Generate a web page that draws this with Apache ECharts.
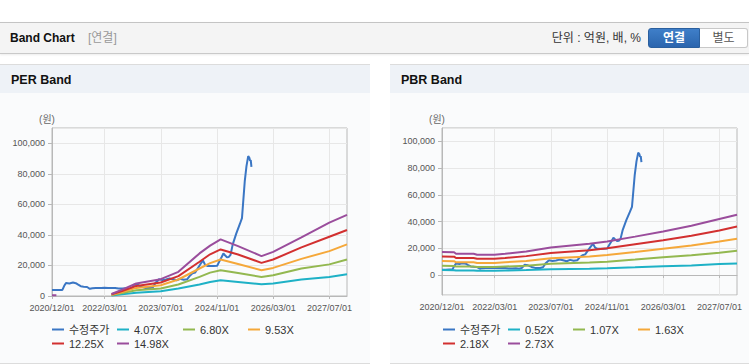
<!DOCTYPE html>
<html><head><meta charset="utf-8">
<script src="https://cdn.jsdelivr.net/npm/echarts@6/dist/echarts.min.js"></script>
<style>
html,body{margin:0;padding:0;background:#fff;width:749px;height:364px;overflow:hidden;font-family:'Liberation Sans','Noto Sans CJK KR',sans-serif;}
#hdr{position:absolute;left:0;top:22px;width:749px;height:30px;background:#f4f4f4;border-top:1px solid #c4c4c4;border-bottom:1px solid #c9c9c9;box-shadow:0 1px 2px rgba(0,0,0,0.08);}
#hdr .t{position:absolute;left:10px;top:0;line-height:30px;font-size:12px;font-weight:bold;color:#111;}
#hdr .s{position:absolute;left:88px;top:0;line-height:30px;font-size:12px;color:#999;}
#hdr .u{position:absolute;right:108px;top:0;line-height:30px;font-size:12px;color:#333;}
.b1{position:absolute;left:648px;top:5px;width:50px;height:18px;line-height:18px;text-align:center;font-size:12px;font-weight:bold;color:#fff;background:linear-gradient(#3f7fc9,#2b65ae);border:1px solid #2a5f9e;border-radius:3px 0 0 3px;}
.b2{position:absolute;left:700px;top:5px;width:47px;height:18px;line-height:18px;text-align:center;font-size:12px;color:#555;background:#fff;border:1px solid #c8c8c8;border-left:none;border-radius:0 3px 3px 0;}
.panel{position:absolute;top:64px;height:298px;background:#fafbfc;border-top:1px solid #dcdcdc;border-bottom:1px solid #dcdcdc;}
.panel .h{height:28px;line-height:31px;background:#eef2f7;padding-left:11px;font-size:12.5px;font-weight:bold;color:#111;}
#chart{position:absolute;left:0;top:0;width:749px;height:364px;z-index:2;}
</style></head>
<body>
<div id="hdr"><span class="t">Band Chart</span><span class="s">[연결]</span><span class="u">단위 : 억원, 배, %</span><div class="b1">연결</div><div class="b2">별도</div></div>
<div class="panel" style="left:0;width:370px;"><div class="h">PER Band</div></div>
<div class="panel" style="left:390px;width:359px;"><div class="h">PBR Band</div></div>
<div id="chart"></div>
<script>
// ---- data ----
const tickLabels = ['2020/12/01','2022/03/01','2023/07/01','2024/11/01','2026/03/01','2027/07/01'];
const startDate = '2020-12-01', endDate = '2027-12-01';

const priceDates = ['2020-12-01','2021-01-01','2021-02-01','2021-03-01','2021-03-16','2021-04-01','2021-05-01','2021-05-16','2021-06-01','2021-06-25','2021-07-16','2021-08-07','2021-09-01','2021-10-01','2021-10-25','2021-11-16','2021-12-16','2022-02-01','2022-03-01','2022-04-01','2022-05-01','2022-06-01','2022-07-01','2022-08-01','2022-09-01','2022-10-01','2022-10-25','2022-11-16','2022-12-16','2023-01-16','2023-02-15','2023-04-01','2023-04-25','2023-05-16','2023-06-16','2023-07-16','2023-08-16','2023-09-16','2023-10-16','2023-11-16','2023-12-16','2024-01-16','2024-02-16','2024-03-07','2024-04-01','2024-04-25','2024-05-16','2024-06-10','2024-07-01','2024-07-19','2024-08-07','2024-09-01','2024-10-01','2024-11-01','2024-11-16','2024-12-10','2024-12-25','2025-01-10','2025-01-25','2025-02-10','2025-02-25','2025-03-16','2025-04-16','2025-05-16','2025-06-04','2025-06-13','2025-06-28','2025-07-13','2025-07-28','2025-08-07','2025-08-13','2025-08-19','2025-08-25'];
const priceValues = [3900,3900,4000,4000,6500,8500,8200,8500,8800,8400,7400,6400,6100,5900,4700,5100,5300,5200,5400,5200,5300,5200,4900,4900,5000,4600,5300,7600,7200,6000,5300,5200,5800,8500,11000,10400,10800,11500,11000,10300,11300,10600,11000,13000,14800,15400,18000,21000,23300,20500,19700,19600,19700,19800,22000,25500,27800,26500,25400,25600,27000,33800,41000,47000,51000,60000,75000,85000,91600,90500,88500,89000,84500];

const perNames = ['4.07X','6.80X','9.53X','12.25X','14.98X'];
const perDates = ['2022-05-01','2022-08-01','2022-12-01','2023-07-01','2023-12-01','2024-06-01','2024-09-01','2024-12-01','2025-05-01','2025-11-20','2026-03-01','2026-11-01','2027-07-01','2027-12-01'];
const per407  = [350,1100,2200,3100,4900,7500,9200,10300,9200,7700,8200,10800,12500,14300];
const per680  = [600,2000,3800,4900,7500,12500,15300,16900,15100,12500,13600,18000,20700,23900];
const per953  = [800,2600,5300,7000,10800,18000,21500,23900,20900,16900,18400,24300,29400,33800];
const per1225 = [1100,3300,6600,8800,13000,22400,27300,30500,27200,21700,23900,31800,38800,43200];
const per1498 = [1300,4200,8200,11000,15800,27900,33000,37100,32700,26100,28900,38400,48000,53100];
const per1498StubDates = ['2020-12-01','2021-01-08'];
const per1498Stub = [500,500];

const pbrNames = ['0.52X','1.07X','1.63X','2.18X','2.73X'];
const pbrDates = ['2020-12-01','2021-03-16','2021-04-01','2021-09-01','2021-10-01','2022-03-01','2022-06-01','2022-12-01','2023-07-01','2024-06-01','2024-11-01','2025-07-01','2026-03-01','2026-11-01','2027-07-01','2027-12-01'];
const pbr052 = [3700,3600,3300,3300,3100,3100,3300,3700,4300,4600,5000,5700,6600,7100,8200,8600];
const pbr107 = [6900,6800,6300,6300,5900,5900,6300,6900,8400,9300,9900,11500,13300,14700,16600,18200];
const pbr163 = [10400,10300,9500,9500,9000,9000,9500,10500,12500,13900,15000,17200,19700,22000,25000,27100];
const pbr218 = [13800,13700,12700,12700,12100,12100,12700,14100,16400,18500,20000,23000,25900,29300,33300,36200];
const pbr273 = [17100,17000,15900,15900,15100,15100,15900,17600,20600,23300,25000,28700,32500,36900,41900,45000];

// ---- build ----
const monthCats = [];
for (let y = 2020, m = 12; y < 2027 || (y === 2027 && m <= 12);) {
  monthCats.push(y + '/' + String(m).padStart(2, '0') + '/01');
  m++; if (m > 12) { m = 1; y++; }
}
const tickFn = (i) => tickLabels.indexOf(monthCats[i]) >= 0;
const zip = (d, v) => d.map((x, i) => [x, v[i]]);
const colors = { price:'#3a76c4', c1:'#1eb1c6', c2:'#93b850', c3:'#f5a83a', c4:'#d23030', c5:'#9a4d9c' };
const bandColors = [colors.c1, colors.c2, colors.c3, colors.c4, colors.c5];
const FONT = "'Liberation Sans','Noto Sans CJK KR',sans-serif";
const gridCol = '#b8b8b8', splitCol = '#e7e7e7';

function catAxis(g) {
  return { type:'category', gridIndex:g, data:monthCats, boundaryGap:false,
    axisLine:{ lineStyle:{ color:gridCol } },
    axisTick:{ show:true, interval:tickFn, length:3, lineStyle:{ color:gridCol } },
    axisLabel:{ interval:tickFn, color:'#555', fontSize:9, margin:7, fontFamily:FONT },
    splitLine:{ show:true, interval:tickFn, lineStyle:{ color:splitCol } } };
}
function timeAxis(g) { return { type:'time', gridIndex:g, min:startDate, max:endDate, show:false }; }
function valAxis(g, extra) {
  return Object.assign({ type:'value', gridIndex:g, name:'(원)', nameLocation:'end', nameGap:4,
    nameTextStyle:{ color:'#666', fontSize:10, align:'center', padding:[0,10,0,0], fontFamily:FONT },
    axisLine:{ show:true, lineStyle:{ color:gridCol } },
    axisTick:{ show:true, length:4, lineStyle:{ color:gridCol } },
    splitLine:{ show:true, lineStyle:{ color:splitCol } } }, extra);
}
const fmt = (v) => Number(v).toLocaleString('en-US');

function line(name, data, color, xi, yi, z) {
  return { name, type:'line', data, xAxisIndex:xi, yAxisIndex:yi, showSymbol:false, symbol:'none',
    lineStyle:{ width:2, color }, itemStyle:{ color }, z, animation:false, silent:true };
}

const series = [];
series.push(line('수정주가', zip(priceDates, priceValues), colors.price, 1, 0, 2));
const perVals = [per407, per680, per953, per1225, per1498];
perVals.forEach((v, i) => {
  let d = zip(perDates, v);
  if (i === 4) d = zip(per1498StubDates, per1498Stub).concat([['2021-01-09', null]], d);
  series.push(line(perNames[i], d, bandColors[i], 1, 0, 3));
});
series.push(line('수정주가', zip(priceDates, priceValues), colors.price, 3, 1, 2));
const pbrVals = [pbr052, pbr107, pbr163, pbr218, pbr273];
pbrVals.forEach((v, i) => series.push(line(pbrNames[i], zip(pbrDates, v), bandColors[i], 3, 1, 3)));

function leg(name, left, top) {
  return { data:[name], left, top, padding:0, icon:'rect', itemWidth:12, itemHeight:2, selectedMode:false,
    textStyle:{ fontSize:11, color:'#333', fontFamily:FONT } };
}
const r1 = 324, r2 = 338;
const legends = [
  leg('수정주가', 52, r1), leg(perNames[0], 117, r1), leg(perNames[1], 183, r1), leg(perNames[2], 248, r1),
  leg(perNames[3], 52, r2), leg(perNames[4], 117, r2),
  leg('수정주가', 443, r1), leg(pbrNames[0], 508, r1), leg(pbrNames[1], 573, r1), leg(pbrNames[2], 638, r1),
  leg(pbrNames[3], 443, r2), leg(pbrNames[4], 508, r2)
];

const chart = echarts.init(document.getElementById('chart'), null, { renderer:'svg', width:749, height:364 });
chart.setOption({
  animation:false,
  backgroundColor:'transparent',
  grid:[
    { left:52, top:128, width:295, height:168, show:true, borderColor:gridCol, borderWidth:1, backgroundColor:'transparent' },
    { left:442, top:128, width:295, height:167, show:true, borderColor:gridCol, borderWidth:1, backgroundColor:'transparent' }
  ],
  xAxis:[ catAxis(0), timeAxis(0), catAxis(1), timeAxis(1) ],
  yAxis:[
    valAxis(0, { min:0, max:110000, interval:20000,
      axisLabel:{ color:'#555', fontSize:9, margin:7, fontFamily:FONT, showMaxLabel:false, formatter:fmt } }),
    valAxis(1, { min:-15000, max:110000, splitNumber:6,
      axisLabel:{ color:'#555', fontSize:9, margin:7, fontFamily:FONT, showMinLabel:false, showMaxLabel:false, formatter:fmt } })
  ],
  legend: legends,
  series
});
</script>
</body></html>
